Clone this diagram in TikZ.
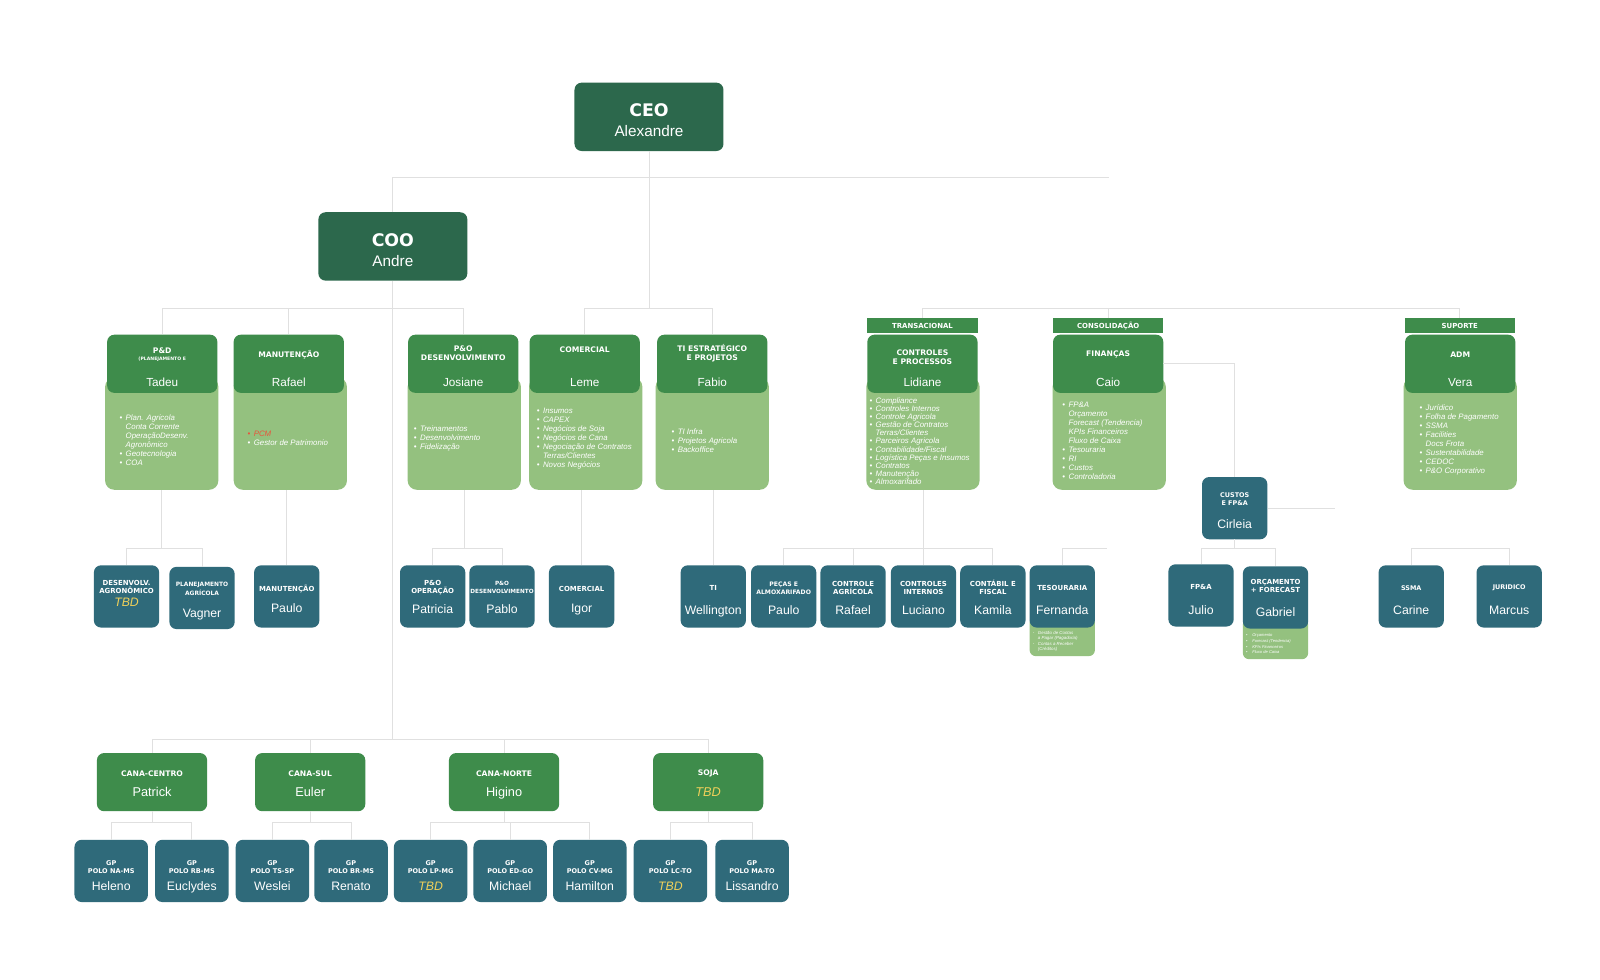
\documentclass[tikz,border=0pt]{standalone}
\usepackage{fontspec}
\setmainfont{Liberation Sans}
\newfontfamily\heavyfont{DejaVu Sans}
\definecolor{ceogreen}{RGB}{44,104,76}
\definecolor{headgreen}{RGB}{62,140,75}
\definecolor{bodygreen}{RGB}{148,193,127}
\definecolor{tealbox}{RGB}{47,106,122}
\definecolor{linkgray}{RGB}{224,224,224}
\definecolor{tbdyellow}{RGB}{240,208,90}
\definecolor{pcmred}{RGB}{232,84,60}
\newcommand{\bul}[1]{\makebox[6pt][l]{\textbullet}#1}
\newcommand{\bulc}[1]{\hspace*{6pt}#1}
\newcommand{\dsh}[1]{\makebox[5pt][l]{-}#1}
\newcommand{\dshc}[1]{\hspace*{5pt}#1}

\begin{document}
\begin{tikzpicture}[x=1pt,y=-1pt,
  topbox/.style={fill=ceogreen,rounded corners=7pt,minimum width=146pt,minimum height=67pt,inner sep=0pt},
  headbox/.style={fill=headgreen,rounded corners=7pt,minimum width=108pt,minimum height=57pt,inner sep=0pt},
  bodybox/.style={fill=bodygreen,rounded corners=9pt,minimum width=111pt,minimum height=110pt,inner sep=0pt},
  banner/.style={fill=headgreen,minimum width=108pt,minimum height=14pt,inner sep=0pt,text=white,font=\heavyfont\bfseries\fontsize{6.8}{7}\selectfont},
  staffbox/.style={fill=tealbox,rounded corners=7pt,minimum width=64pt,minimum height=61pt,inner sep=0pt},
  polobox/.style={staffbox,minimum width=72pt},
  notebox/.style={fill=bodygreen,rounded corners=6pt,minimum width=64pt,inner sep=0pt},
  toptitle/.style={text=white,inner sep=0pt,font=\heavyfont\bfseries\fontsize{17}{18}\selectfont},
  topname/.style={text=white,inner sep=0pt,anchor=base,font=\fontsize{15}{16}\selectfont},
  headtitle/.style={text=white,inner sep=0pt,align=center,font=\heavyfont\bfseries\fontsize{7.5}{8.8}\selectfont},
  headname/.style={text=white,inner sep=0pt,anchor=base,font=\fontsize{11.5}{12}\selectfont},
  stafftitle/.style={text=white,inner sep=0pt,align=center,font=\heavyfont\bfseries\fontsize{6.8}{7.8}\selectfont},
  staffname/.style={text=white,inner sep=0pt,anchor=base,font=\fontsize{12}{13}\selectfont},
  listtext/.style={text=white,inner sep=0pt,anchor=west,align=left,font=\itshape\fontsize{7.7}{8.8}\selectfont},
  notetext/.style={text=white,inner sep=0pt,anchor=west,align=left,font=\itshape\fontsize{4.3}{5.5}\selectfont},
  tbd/.style={text=tbdyellow,font=\itshape\fontsize{12}{13}\selectfont},
  link/.style={draw=linkgray,line width=0.8pt}]
\fill[white] (0,0) rectangle (1568,960);
\useasboundingbox (0,0) rectangle (1568,960);

\coordinate (topBus) at (1087,174);
\coordinate (midBus) at (0,302);
\coordinate (rowBus) at (0,537);
\coordinate (lowBus) at (0,725);
\coordinate (poloBus) at (0,806);
\coordinate (cirStub) at (1308,498);
\coordinate (tesStub) at (1085,537);

\node[topbox] (ceo) at (636,114.5) {};
\node[toptitle] (ceoTitle) at (636,108) {CEO};
\node[topname] (ceoName) at (636,133.5) {Alexandre};
\node[topbox] (coo) at (385,241.5) {};
\node[toptitle] (cooTitle) at (385,235) {COO};
\node[topname] (cooName) at (385,261.5) {Andre};

\node[bodybox] (pdBody) at (158.5,425) {};
\node[headbox] (pdHead) at (159,356.5) {};
\node[headtitle] (pdTitle) at (159,347.5) {P\&D\\[-2.5pt]{\fontsize{4.5}{5}\selectfont(PLANEJAMENTO E}};
\node[headname] (pdName) at (159,378.5) {Tadeu};
\node[listtext] (pdList) at (117,431) {\bul{Plan. Agricola}\\\bulc{Conta Corrente}\\\bulc{OperaçãoDesenv.}\\\bulc{Agronômico}\\\bul{Geotecnologia}\\\bul{COA}};

\node[bodybox] (manBody) at (284.5,425) {};
\node[headbox] (manHead) at (283,356.5) {};
\node[headtitle] (manTitle) at (283,348) {MANUTENÇÃO};
\node[headname] (manName) at (283,378.5) {Rafael};
\node[listtext] (manList) at (242.5,430) {{\color{pcmred}\bul{PCM}}\\\bul{Gestor de Patrimonio}};

\node[bodybox] (poBody) at (455,425) {};
\node[headbox] (poHead) at (454,356.5) {};
\node[headtitle] (poTitle) at (454,346.5) {P\&O\\DESENVOLVIMENTO};
\node[headname] (poName) at (454,378.5) {Josiane};
\node[listtext] (poList) at (405.5,430) {\bul{Treinamentos}\\\bul{Desenvolvimento}\\\bul{Fidelização}};

\node[bodybox] (comBody) at (574,425) {};
\node[headbox] (comHead) at (573,356.5) {};
\node[headtitle] (comTitle) at (573,342.5) {COMERCIAL};
\node[headname] (comName) at (573,378.5) {Leme};
\node[listtext] (comList) at (526,430) {\bul{Insumos}\\\bul{CAPEX}\\\bul{Negócios de Soja}\\\bul{Negócios de Cana}\\\bul{Negociação de Contratos}\\\bulc{Terras/Clientes}\\\bul{Novos Negócios}};

\node[bodybox] (tiBody) at (698,425) {};
\node[headbox] (tiHead) at (698,356.5) {};
\node[headtitle] (tiTitle) at (698,346.5) {TI ESTRATÉGICO\\E PROJETOS};
\node[headname] (tiName) at (698,378.5) {Fabio};
\node[listtext] (tiList) at (658,432) {\bul{TI Infra}\\\bul{Projetos Agricola}\\\bul{Backoffice}};

\node[banner] (trBanner) at (904,319) {TRANSACIONAL};
\node[bodybox] (crBody) at (904.5,425) {};
\node[headbox] (crHead) at (904,356.5) {};
\node[headtitle] (crTitle) at (904,350.5) {CONTROLES\\E PROCESSOS};
\node[headname] (crName) at (904,378.5) {Lidiane};
\node[listtext,font=\itshape\fontsize{7.7}{7.95}\selectfont] (crList) at (852,432.3) {\bul{Compliance}\\\bul{Controles Internos}\\\bul{Controle Agricola}\\\bul{Gestão de Contratos}\\\bulc{Terras/Clientes}\\\bul{Parceiros Agricola}\\\bul{Contabilidade/Fiscal}\\\bul{Logística Peças e Insumos}\\\bul{Contratos}\\\bul{Manutenção}\\\bul{Almoxarifado}};

\node[banner] (conBanner) at (1086,319) {CONSOLIDAÇÃO};
\node[bodybox] (finBody) at (1087,425) {};
\node[headbox] (finHead) at (1086,356.5) {};
\node[headtitle] (finTitle) at (1086,347.5) {FINANÇAS};
\node[headname] (finName) at (1086,378.5) {Caio};
\node[listtext] (finList) at (1041,432) {\bul{FP\&A}\\\bulc{Orçamento}\\\bulc{Forecast (Tendencia)}\\\bulc{KPIs Financeiros}\\\bulc{Fluxo de Caixa}\\\bul{Tesouraria}\\\bul{RI}\\\bul{Custos}\\\bul{Controladoria}};

\node[banner] (supBanner) at (1430.5,319) {SUPORTE};
\node[bodybox] (admBody) at (1431,425) {};
\node[headbox] (admHead) at (1431,356.5) {};
\node[headtitle] (admTitle) at (1431,347.5) {ADM};
\node[headname] (admName) at (1431,378.5) {Vera};
\node[listtext] (admList) at (1391,431.5) {\bul{Jurídico}\\\bul{Folha de Pagamento}\\\bul{SSMA}\\\bul{Facilities}\\\bulc{Docs Frota}\\\bul{Sustentabilidade}\\\bul{CEDOC}\\\bul{P\&O Corporativo}};

\node[staffbox] (cirleia) at (1210,498) {};
\node[stafftitle,font=\heavyfont\bfseries\fontsize{6.3}{8}\selectfont] (cirTitle) at (1210,489) {CUSTOS\\E FP\&A};
\node[staffname] (cirName) at (1210,517.5) {Cirleia};

\node[staffbox] (agro) at (124,584.5) {};
\node[stafftitle] (agroTitle) at (124,575.5) {DESENVOLV.\\AGRONÔMICO};
\node[staffname,tbd] (agroName) at (124,594) {TBD};
\node[staffbox] (vagner) at (198,586) {};
\node[stafftitle,font=\heavyfont\bfseries\fontsize{5.8}{9}\selectfont] (vagnerTitle) at (198,577) {PLANEJAMENTO\\AGRÍCOLA};
\node[staffname] (vagnerName) at (198,605) {Vagner};
\node[staffbox] (paulo1) at (281,584.5) {};
\node[stafftitle] (paulo1Title) at (281,577) {MANUTENÇÃO};
\node[staffname] (paulo1Name) at (281,600.5) {Paulo};
\node[staffbox] (patricia) at (424,584.5) {};
\node[stafftitle] (patriciaTitle) at (424,575.5) {P\&O\\OPERAÇÃO};
\node[staffname] (patriciaName) at (424,601) {Patricia};
\node[staffbox] (pablo) at (492,584.5) {};
\node[stafftitle,font=\heavyfont\bfseries\fontsize{5.6}{7.8}\selectfont] (pabloTitle) at (492,575.5) {P\&O\\DESENVOLVIMENTO};
\node[staffname] (pabloName) at (492,601) {Pablo};
\node[staffbox] (igor) at (570,584.5) {};
\node[stafftitle] (igorTitle) at (570,577) {COMERCIAL};
\node[staffname] (igorName) at (570,600.5) {Igor};

\node[staffbox] (wellington) at (699,584.5) {};
\node[stafftitle] (wellingtonTitle) at (699,576) {TI};
\node[staffname] (wellingtonName) at (699,602.3) {Wellington};
\node[staffbox] (pecas) at (768,584.5) {};
\node[stafftitle,font=\heavyfont\bfseries\fontsize{6}{7.8}\selectfont] (pecasTitle) at (768,576.5) {PEÇAS E\\ALMOXARIFADO};
\node[staffname] (pecasName) at (768,602.3) {Paulo};
\node[staffbox] (rafael) at (836,584.5) {};
\node[stafftitle] (rafaelTitle) at (836,576) {CONTROLE\\AGRÍCOLA};
\node[staffname] (rafaelName) at (836,602.3) {Rafael};
\node[staffbox] (luciano) at (905,584.5) {};
\node[stafftitle] (lucianoTitle) at (905,576) {CONTROLES\\INTERNOS};
\node[staffname] (lucianoName) at (905,602.3) {Luciano};
\node[staffbox] (kamila) at (973,584.5) {};
\node[stafftitle] (kamilaTitle) at (973,576) {CONTÁBIL E\\FISCAL};
\node[staffname] (kamilaName) at (973,602.3) {Kamila};
\node[notebox,minimum height=39pt] (fernandaNote) at (1041,623.5) {};
\node[notetext] (fernandaList) at (1012,628.5) {\dsh{Gestão de Contas}\\\dshc{a Pagar (Pagadoria)}\\\dsh{Contas a Receber}\\\dshc{(Créditos)}};
\node[staffbox] (fernanda) at (1041,584.5) {};
\node[stafftitle] (fernandaTitle) at (1041,576) {TESOURARIA};
\node[staffname] (fernandaName) at (1041,602.3) {Fernanda};

\node[staffbox] (julio) at (1177,583.5) {};
\node[stafftitle] (julioTitle) at (1177,575) {FP\&A};
\node[staffname] (julioName) at (1177,602.3) {Julio};
\node[notebox,minimum height=40pt] (gabrielNote) at (1250,626) {};
\node[notetext,font=\itshape\fontsize{4}{5.5}\selectfont] (gabrielList) at (1221,631) {\bul{Orçamento}\\\bul{Forecast (Tendencia)}\\\bul{KPIs Financeiros}\\\bul{Fluxo de Caixa}};
\node[staffbox] (gabriel) at (1250,585.5) {};
\node[stafftitle] (gabrielTitle) at (1250,574.5) {ORÇAMENTO\\+ FORECAST};
\node[staffname] (gabrielName) at (1250,604) {Gabriel};

\node[staffbox] (carine) at (1383,584.5) {};
\node[stafftitle,font=\heavyfont\bfseries\fontsize{6.3}{7.8}\selectfont] (carineTitle) at (1383,576) {SSMA};
\node[staffname] (carineName) at (1383,602.3) {Carine};
\node[staffbox] (marcus) at (1479,584.5) {};
\node[stafftitle,font=\heavyfont\bfseries\fontsize{6.3}{7.8}\selectfont] (marcusTitle) at (1479,576) {JURIDICO};
\node[staffname] (marcusName) at (1479,602.3) {Marcus};

\node[headbox] (canaCentro) at (149,766.5) {};
\node[headtitle] (canaCentroTitle) at (149,758) {CANA-CENTRO};
\node[headname,font=\fontsize{12.5}{13}\selectfont] (canaCentroName) at (149,780.3) {Patrick};
\node[headbox] (canaSul) at (304,766.5) {};
\node[headtitle] (canaSulTitle) at (304,758) {CANA-SUL};
\node[headname,font=\fontsize{12.5}{13}\selectfont] (canaSulName) at (304,780.3) {Euler};
\node[headbox] (canaNorte) at (494,766.5) {};
\node[headtitle] (canaNorteTitle) at (494,758) {CANA-NORTE};
\node[headname,font=\fontsize{12.5}{13}\selectfont] (canaNorteName) at (494,780.3) {Higino};
\node[headbox] (soja) at (694,766.5) {};
\node[headtitle] (sojaTitle) at (694,758) {SOJA};
\node[headname,text=tbdyellow,font=\itshape\fontsize{12.5}{13}\selectfont] (sojaName) at (694,780.3) {TBD};

\tikzset{polotitle/.style={stafftitle,font=\heavyfont\bfseries\fontsize{6.4}{8}\selectfont}}
\node[polobox] (heleno) at (109,853.5) {};
\node[polotitle] (helenoTitle) at (109,850) {GP\\POLO NA-MS};
\node[staffname] (helenoName) at (109,872.3) {Heleno};
\node[polobox] (euclydes) at (188,853.5) {};
\node[polotitle] (euclydesTitle) at (188,850) {GP\\POLO RB-MS};
\node[staffname] (euclydesName) at (188,872.3) {Euclydes};
\node[polobox] (weslei) at (267,853.5) {};
\node[polotitle] (wesleiTitle) at (267,850) {GP\\POLO TS-SP};
\node[staffname] (wesleiName) at (267,872.3) {Weslei};
\node[polobox] (renato) at (344,853.5) {};
\node[polotitle] (renatoTitle) at (344,850) {GP\\POLO BR-MS};
\node[staffname] (renatoName) at (344,872.3) {Renato};
\node[polobox] (poloLP) at (422,853.5) {};
\node[polotitle] (poloLPTitle) at (422,850) {GP\\POLO LP-MG};
\node[staffname,tbd] (poloLPName) at (422,872.3) {TBD};
\node[polobox] (michael) at (500,853.5) {};
\node[polotitle] (michaelTitle) at (500,850) {GP\\POLO ED-GO};
\node[staffname] (michaelName) at (500,872.3) {Michael};
\node[polobox] (hamilton) at (578,853.5) {};
\node[polotitle] (hamiltonTitle) at (578,850) {GP\\POLO CV-MG};
\node[staffname] (hamiltonName) at (578,872.3) {Hamilton};
\node[polobox] (poloLC) at (657,853.5) {};
\node[polotitle] (poloLCTitle) at (657,850) {GP\\POLO LC-TO};
\node[staffname,tbd] (poloLCName) at (657,872.3) {TBD};
\node[polobox] (lissandro) at (737,853.5) {};
\node[polotitle] (lissandroTitle) at (737,850) {GP\\POLO MA-TO};
\node[staffname] (lissandroName) at (737,872.3) {Lissandro};

\draw[link] (coo.north) |- (topBus);
\draw[link] (ceo.south) -- (ceo.south |- midBus);
\draw[link] (comHead.north) -- (comHead.north |- midBus) -- (tiHead.north |- midBus) -- (tiHead.north);
\draw[link] (pdHead.north) -- (pdHead.north |- midBus) -- (poHead.north |- midBus) -- (poHead.north);
\draw[link] (manHead.north) -- (manHead.north |- midBus);
\draw[link] (trBanner.north) -- (trBanner.north |- midBus) -- (supBanner.north |- midBus) -- (supBanner.north);
\draw[link] (conBanner.north) -- (conBanner.north |- midBus);
\draw[link] (finHead.east) -| (cirleia.north);
\draw[link] (cirleia.east) -- (cirStub);
\draw[link] (coo.south) -- (coo.south |- lowBus);

\draw[link] (pdBody.south) -- (pdBody.south |- rowBus);
\draw[link] (agro.north) -- (agro.north |- rowBus) -- (vagner.north |- rowBus) -- (vagner.north);
\draw[link] (paulo1.north) -- (paulo1.north |- manBody.south);
\draw[link] (poBody.south) -- (poBody.south |- rowBus);
\draw[link] (patricia.north) -- (patricia.north |- rowBus) -- (pablo.north |- rowBus) -- (pablo.north);
\draw[link] (igor.north) -- (igor.north |- comBody.south);
\draw[link] (wellington.north) -- (wellington.north |- tiBody.south);
\draw[link] (crBody.south) -- (crBody.south |- rowBus);
\draw[link] (pecas.north) -- (pecas.north |- rowBus) -- (kamila.north |- rowBus) -- (kamila.north);
\draw[link] (rafael.north) -- (rafael.north |- rowBus);
\draw[link] (luciano.north) -- (luciano.north |- rowBus);
\draw[link] (fernanda.north) -- (fernanda.north |- rowBus) -- (tesStub);
\draw[link] (cirleia.south) -- (cirleia.south |- rowBus);
\draw[link] (julio.north) -- (julio.north |- rowBus) -- (gabriel.north |- rowBus) -- (gabriel.north);
\draw[link] (carine.north) -- (carine.north |- rowBus) -- (marcus.north |- rowBus) -- (marcus.north);

\draw[link] (canaCentro.north) -- (canaCentro.north |- lowBus) -- (soja.north |- lowBus) -- (soja.north);
\draw[link] (canaSul.north) -- (canaSul.north |- lowBus);
\draw[link] (canaNorte.north) -- (canaNorte.north |- lowBus);
\draw[link] (canaCentro.south) -- (canaCentro.south |- poloBus);
\draw[link] (heleno.north) -- (heleno.north |- poloBus) -- (euclydes.north |- poloBus) -- (euclydes.north);
\draw[link] (canaSul.south) -- (canaSul.south |- poloBus);
\draw[link] (weslei.north) -- (weslei.north |- poloBus) -- (renato.north |- poloBus) -- (renato.north);
\draw[link] (canaNorte.south) -- (canaNorte.south |- poloBus);
\draw[link] (poloLP.north) -- (poloLP.north |- poloBus) -- (hamilton.north |- poloBus) -- (hamilton.north);
\draw[link] (michael.north) -- (michael.north |- poloBus);
\draw[link] (soja.south) -- (soja.south |- poloBus);
\draw[link] (poloLC.north) -- (poloLC.north |- poloBus) -- (lissandro.north |- poloBus) -- (lissandro.north);
\end{tikzpicture}
\end{document}
